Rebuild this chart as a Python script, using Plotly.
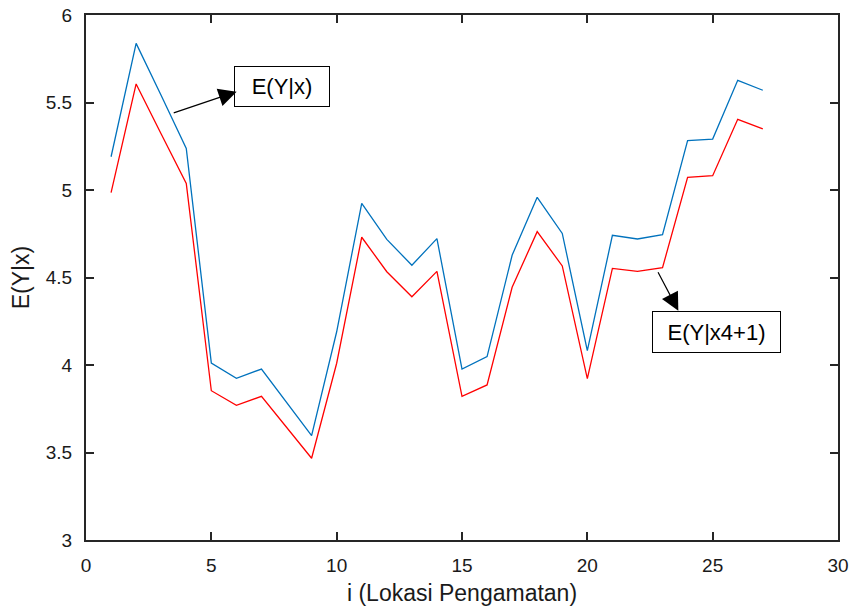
import plotly.graph_objects as go

# ---- data ----
lokasi = list(range(1, 28))
ey_x = [5.19, 5.838, 5.54, 5.238, 4.011, 3.924, 3.977, 3.79, 3.596, 4.19,
        4.924, 4.718, 4.57, 4.722, 3.977, 4.048, 4.627, 4.958, 4.752, 4.082,
        4.741, 4.72, 4.745, 5.282, 5.291, 5.627, 5.57]
ey_x4 = [4.985, 5.606, 5.32, 5.038, 3.853, 3.77, 3.821, 3.644, 3.467, 4.01,
         4.73, 4.533, 4.39, 4.535, 3.821, 3.886, 4.444, 4.762, 4.566, 3.922,
         4.552, 4.535, 4.556, 5.072, 5.082, 5.404, 5.349]
x_ticks = [0, 5, 10, 15, 20, 25, 30]
y_ticks = [3, 3.5, 4, 4.5, 5, 5.5, 6]
y_tick_text = ["3", "3.5", "4", "4.5", "5", "5.5", "6"]

FONT = "Liberation Sans, Arial, Helvetica, sans-serif"
AX = "#262626"

fig = go.Figure()
fig.add_trace(go.Scatter(x=lokasi, y=ey_x, mode="lines",
                         line=dict(color="#0072BD", width=1.3), showlegend=False))
fig.add_trace(go.Scatter(x=lokasi, y=ey_x4, mode="lines",
                         line=dict(color="#FF0000", width=1.3), showlegend=False))

axis_common = dict(showline=True, linecolor=AX, linewidth=2, mirror="ticks",
                   ticks="inside", ticklen=8, tickwidth=2, tickcolor=AX,
                   showgrid=False, zeroline=False, automargin=False,
                   tickfont=dict(family=FONT, size=19, color="#1a1a1a"))

fig.update_xaxes(range=[0, 30], tickvals=x_ticks, ticklabelstandoff=7,
                 title=dict(text="i (Lokasi Pengamatan)", standoff=10,
                            font=dict(family=FONT, size=23, color="#1a1a1a")),
                 **axis_common)
fig.update_yaxes(range=[3, 6], tickvals=y_ticks, ticktext=y_tick_text,
                 ticklabelstandoff=8,
                 title=dict(text="E(Y|x)", standoff=10,
                            font=dict(family=FONT, size=23, color="#1a1a1a")),
                 **axis_common)

# text boxes
fig.add_annotation(x=7.83, y=5.59, xref="x", yref="y", text="E(Y|x)",
                   showarrow=False, bordercolor="black", borderwidth=1,
                   borderpad=0, bgcolor="white", width=94, height=39,
                   font=dict(family=FONT, size=22, color="black"))
fig.add_annotation(x=25.15, y=4.191, xref="x", yref="y", text="E(Y|x4+1)",
                   showarrow=False, bordercolor="black", borderwidth=1,
                   borderpad=0, bgcolor="white", width=127, height=40,
                   font=dict(family=FONT, size=22, color="black"))
# arrows
fig.add_annotation(x=6.01, y=5.562, ax=3.44, ay=5.438, xref="x", yref="y",
                   axref="x", ayref="y", text="", showarrow=True,
                   arrowhead=2, arrowsize=3, arrowwidth=1.2,
                   arrowcolor="black", standoff=0, startstandoff=0)
fig.add_annotation(x=23.63, y=4.31, ax=22.79, ay=4.539, xref="x", yref="y",
                   axref="x", ayref="y", text="", showarrow=True,
                   arrowhead=2, arrowsize=3, arrowwidth=1.2,
                   arrowcolor="black", standoff=0, startstandoff=0)

fig.update_layout(width=855, height=606,
                  margin=dict(l=86, r=17, t=15, b=66),
                  plot_bgcolor="white", paper_bgcolor="white",
                  font=dict(family=FONT))

fig.write_html("out.html")
